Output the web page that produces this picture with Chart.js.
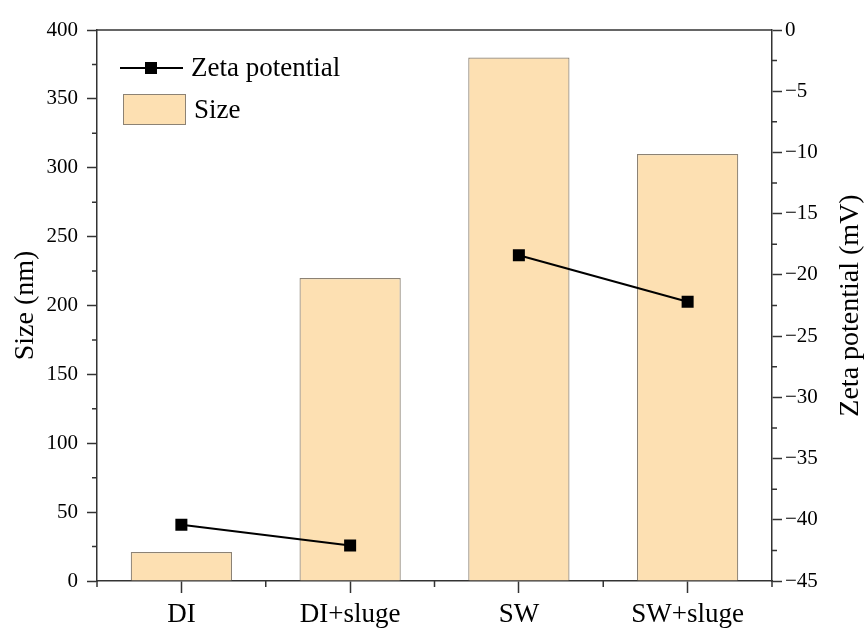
<!DOCTYPE html>
<html>
<head>
<meta charset="utf-8">
<script src="https://cdn.jsdelivr.net/npm/chart.js@4"></script>
<style>
  html, body { margin: 0; padding: 0; background: #fff; }
  #wrap { width: 866px; height: 628px; }
</style>
</head>
<body>
<div id="wrap"><canvas id="chart"></canvas></div>
<script>
// data
const categories = ["DI", "DI+sluge", "SW", "SW+sluge"];
const sizeValues = [21, 220, 380, 310];
const zetaValues = [-40.4, -42.1, -18.4, -22.2];

const FONT = "'Liberation Serif', 'Times New Roman', serif";
const AXIS = "#333333";

// minor ticks, top border, right title and the in-plot legend
const extras = {
  id: "extras",
  afterDraw(chart) {
    const { ctx, chartArea: a, scales } = chart;
    ctx.save();
    ctx.strokeStyle = AXIS;
    ctx.lineWidth = 1.5;
    // top frame line
    ctx.beginPath();
    ctx.moveTo(a.left, a.top);
    ctx.lineTo(a.right, a.top);
    ctx.stroke();

    ctx.beginPath();
    // left minor ticks
    for (let v = 25; v < 400; v += 50) {
      const y = scales.y.getPixelForValue(v);
      ctx.moveTo(a.left - 5, y); ctx.lineTo(a.left, y);
    }
    // right minor ticks
    for (let v = -2.5; v > -45; v -= 5) {
      const y = scales.y1.getPixelForValue(v);
      ctx.moveTo(a.right, y); ctx.lineTo(a.right + 5, y);
    }
    // x minor ticks between categories
    for (let i = 0; i <= categories.length; i++) {
      const x = scales.x.getPixelForValue(i - 0.5);
      ctx.moveTo(x, a.bottom); ctx.lineTo(x, a.bottom + 6);
    }
    ctx.stroke();

    // right axis title, reading bottom to top like the left one
    ctx.save();
    ctx.translate(851, (a.top + a.bottom) / 2);
    ctx.rotate(-Math.PI / 2);
    ctx.fillStyle = "#000";
    ctx.font = "28px " + FONT;
    ctx.textAlign = "center";
    ctx.textBaseline = "middle";
    ctx.fillText("Zeta potential (mV)", 0, 0);
    ctx.restore();

    // legend
    ctx.fillStyle = "#000";
    ctx.font = "27px " + FONT;
    ctx.textBaseline = "middle";
    ctx.strokeStyle = "#000";
    ctx.lineWidth = 2;
    ctx.beginPath();
    ctx.moveTo(120, 68); ctx.lineTo(183, 68);
    ctx.stroke();
    ctx.fillRect(145, 62, 12, 12);
    ctx.fillText(chart.data.datasets[0].label, 191, 69);

    ctx.fillStyle = chart.data.datasets[1].backgroundColor;
    ctx.fillRect(123, 94, 63, 31);
    ctx.strokeStyle = chart.data.datasets[1].borderColor;
    ctx.lineWidth = 1;
    ctx.strokeRect(123.5, 94.5, 62, 30);
    ctx.fillStyle = "#000";
    ctx.fillText(chart.data.datasets[1].label, 194, 111);
    ctx.restore();
  }
};

new Chart(document.getElementById("chart"), {
  data: {
    labels: categories,
    datasets: [
      {
        type: "line",
        label: "Zeta potential",
        data: zetaValues,
        yAxisID: "y1",
        borderColor: "#000",
        backgroundColor: "#000",
        borderWidth: 2,
        pointStyle: "rect",
        pointRadius: 8.5,
        pointBorderWidth: 0,
        order: 0,
        segment: {
          borderColor: (c) => (c.p0DataIndex === 1 ? "rgba(0,0,0,0)" : "#000")
        }
      },
      {
        type: "bar",
        label: "Size",
        data: sizeValues,
        yAxisID: "y",
        backgroundColor: "#FDE0B2",
        borderColor: "#8c8274",
        borderWidth: 1.2,
        barPercentage: 0.6,
        categoryPercentage: 1,
        order: 1
      }
    ]
  },
  options: {
    responsive: true,
    maintainAspectRatio: false,
    animation: false,
    layout: { padding: { top: 30, left: 0, right: 0, bottom: 0 } },
    plugins: { legend: { display: false }, tooltip: { enabled: false } },
    scales: {
      x: {
        offset: true,
        grid: { offset: false, drawOnChartArea: false, tickLength: 12, tickColor: AXIS, tickWidth: 1.5 },
        border: { color: AXIS, width: 1.5 },
        ticks: { color: "#000", font: { family: FONT, size: 27 }, padding: 6, maxRotation: 0 },
        afterFit(s) { s.height = 47; }
      },
      y: {
        position: "left",
        min: 0,
        max: 400,
        grid: { drawOnChartArea: false, tickLength: 10, tickColor: AXIS, tickWidth: 1.5 },
        border: { color: AXIS, width: 1.5 },
        ticks: { stepSize: 50, color: "#000", font: { family: FONT, size: 21 }, padding: 9 },
        title: { display: true, text: "Size (nm)", color: "#000", font: { family: FONT, size: 28 }, padding: { top: 9, bottom: 0 } },
        afterFit(s) { s.width = 97; }
      },
      y1: {
        position: "right",
        min: -45,
        max: 0,
        grid: { drawOnChartArea: false, tickLength: 10, tickColor: AXIS, tickWidth: 1.5 },
        border: { color: AXIS, width: 1.5 },
        ticks: {
          stepSize: 5,
          color: "#000",
          font: { family: FONT, size: 21 },
          padding: 3,
          callback: (v) => (v < 0 ? "\u2212" + Math.abs(v) : v)
        },
        afterFit(s) { s.width = 94; }
      }
    }
  },
  plugins: [extras]
});
</script>
</body>
</html>
